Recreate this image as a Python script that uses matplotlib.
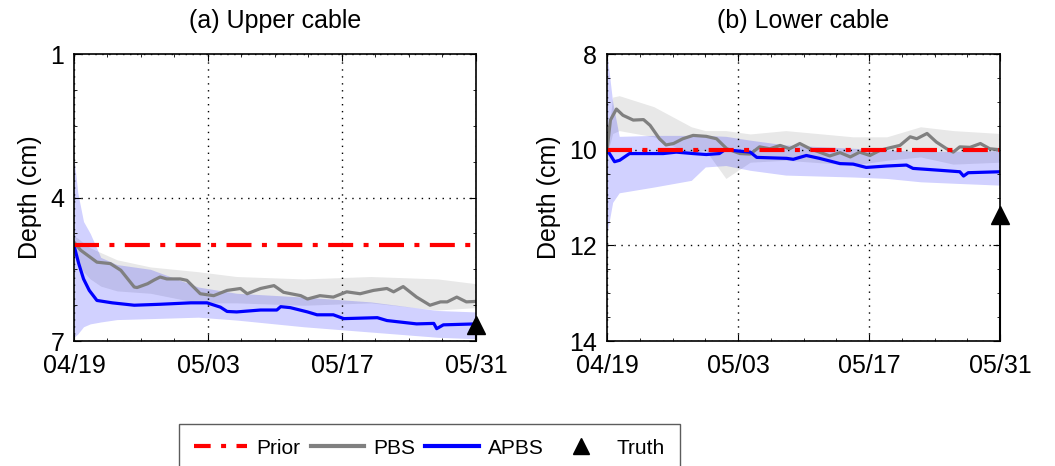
import numpy as np
import matplotlib
matplotlib.use("Agg")
import matplotlib.pyplot as plt
from matplotlib.lines import Line2D

plt.rcParams['font.family'] = ['Liberation Sans', 'DejaVu Sans']

# ---------------- data ----------------
tick_days = [0, 14, 28, 42]
tick_labels = ['04/19', '05/03', '05/17', '05/31']
day_end = 42

# (a) Upper cable
prior_a = 5.0
truth_a = 6.67
apbs_a_days = [0, 0.5, 1.0, 1.6, 2.4, 4, 6.3, 9, 12.2, 13.9, 15.3, 16, 17, 19.5, 21.2, 21.6,
               22.6, 24.4, 25.4, 27.1, 28.2, 31.7, 32.7, 35.8, 37.6, 37.9, 38.6, 42]
apbs_a = [5.0, 5.38, 5.7, 5.94, 6.15, 6.2, 6.25, 6.23, 6.2, 6.2, 6.29, 6.38, 6.39, 6.35, 6.35, 6.28,
          6.3, 6.39, 6.45, 6.45, 6.53, 6.51, 6.57, 6.64, 6.63, 6.74, 6.66, 6.64]
pbs_a_days = [0, 0.7, 2.4, 3.8, 4.9, 6.3, 6.6, 7.7, 8.4, 9, 9.7, 11.1, 11.8, 13.2, 14.6, 16, 17.4,
              18.1, 19.5, 20.9, 21.9, 23.7, 24.4, 25.7, 27.1, 28.5, 29.9, 31.3, 32.7, 33.4, 34.4,
              35.8, 37.2, 38.3, 39, 40, 41, 42]
pbs_a = [4.93, 5.1, 5.35, 5.38, 5.52, 5.87, 5.88, 5.8, 5.72, 5.66, 5.7, 5.7, 5.73, 6.01, 6.05, 5.94,
         5.9, 6.01, 5.9, 5.84, 5.98, 6.05, 6.12, 6.05, 6.08, 5.97, 6.01, 5.94, 5.9, 5.97, 5.86,
         6.08, 6.25, 6.18, 6.18, 6.08, 6.18, 6.17]
band_a_days = [0, 0.4, 1.0, 1.7, 2.8, 4.5, 8, 13, 17, 24, 31, 38, 42]
apbs_a_lo = [3.15, 3.9, 4.5, 4.75, 5.25, 5.4, 5.5, 5.87, 6.0, 6.08, 6.18, 6.36, 6.39]
apbs_a_hi = [6.92, 6.85, 6.7, 6.64, 6.6, 6.55, 6.53, 6.5, 6.56, 6.7, 6.81, 6.92, 6.95]
pbs_a_lo = [4.8, 4.85, 4.95, 5.05, 5.15, 5.3, 5.45, 5.55, 5.65, 5.7, 5.65, 5.7, 5.8]
pbs_a_hi = [5.1, 5.35, 5.55, 5.7, 5.85, 5.95, 6.0, 6.2, 6.2, 6.25, 6.2, 6.35, 6.3]

# (b) Lower cable
prior_b = 10.0
truth_b = 11.37
apbs_b_days = [0, 0.8, 1.35, 2.4, 6, 7.4, 9.2, 10.6, 12, 12.6, 15.3, 16, 19.2, 19.9, 21.3, 22.7,
               24.9, 26.3, 27.7, 29.9, 32, 32.7, 35.6, 37.7, 38.1, 38.6, 42]
apbs_b = [10.0, 10.25, 10.22, 10.08, 10.08, 10.05, 10.08, 10.1, 10.08, 10.0, 10.05, 10.16, 10.18,
          10.2, 10.12, 10.18, 10.29, 10.3, 10.37, 10.34, 10.32, 10.39, 10.43, 10.46, 10.55, 10.48, 10.46]
pbs_b_days = [0, 0.36, 1, 1.7, 2.8, 3.9, 4.6, 5.6, 6.3, 7.1, 8.1, 9.2, 10.6, 11.7, 12.8, 14.2, 15.3,
              16.3, 17.4, 18.5, 19.5, 20.6, 21.7, 22.7, 23.8, 24.9, 26, 27, 28.1, 29.2, 30.2, 31.3,
              32.4, 33.1, 34.2, 35.2, 36.3, 37, 37.7, 38.8, 39.9, 40.9, 42]
pbs_b = [10.0, 9.38, 9.15, 9.28, 9.38, 9.37, 9.49, 9.77, 9.9, 9.87, 9.77, 9.7, 9.72, 9.77, 9.98,
         10.08, 10.09, 9.94, 9.98, 9.91, 9.98, 9.87, 9.98, 10.05, 10.13, 10.06, 10.15, 10.05, 10.12,
         10.01, 9.96, 9.91, 9.73, 9.77, 9.66, 9.84, 9.98, 10.05, 9.94, 9.95, 9.87, 9.98, 10.0]
band_b_days = [0, 0.6, 1.3, 5, 9, 10.5, 12.7, 15.3, 19.1, 26.3, 29.9, 33.5, 37, 42]
apbs_b_lo = [8.0, 9.0, 9.72, 9.7, 9.7, 9.7, 9.72, 9.8, 9.9, 9.97, 10.0, 10.04, 10.03, 10.02]
apbs_b_hi = [11.75, 11.1, 10.9, 10.78, 10.64, 10.36, 10.33, 10.43, 10.53, 10.57, 10.6, 10.67, 10.7, 10.74]
pbs_b_lo = [9.9, 8.9, 8.87, 9.1, 9.52, 9.6, 9.6, 9.67, 9.6, 9.73, 9.73, 9.52, 9.6, 9.66]
pbs_b_hi = [10.1, 9.66, 9.6, 9.73, 10.1, 10.0, 10.6, 10.26, 10.22, 10.32, 10.22, 10.15, 10.3, 10.26]

legend_labels = ['Prior', 'PBS', 'APBS', 'Truth']

# ---------------- figure ----------------
fig = plt.figure(figsize=(10.55, 4.66), dpi=100)
axA = fig.add_axes([0.0701, 0.268, 0.381, 0.616])
axB = fig.add_axes([0.5754, 0.268, 0.3725, 0.616])

FS = 18
blue_band = (0.0, 0.0, 1.0, 0.18)
gray_band = (0.5, 0.5, 0.5, 0.18)
DASHDOT = (0, (6, 2.5, 1.2, 2.5))


def draw(ax, prior, truth, ad, a, pd, p, bd, alo, ahi, plo, phi, ylim, yticks, title):
    ax.fill_between(bd, plo, phi, color=gray_band, linewidth=0)
    ax.fill_between(bd, alo, ahi, color=blue_band, linewidth=0)
    ax.plot(pd, p, color='#808080', lw=2.3)
    ax.plot(ad, a, color='blue', lw=2.3)
    ax.axhline(prior, color='red', lw=3, linestyle=DASHDOT)
    ax.vlines(day_end, truth, ylim[0], color='black', lw=1.5, clip_on=False)
    ax.plot([day_end], [truth], marker='^', color='black', markersize=13, clip_on=False, zorder=5)
    ax.set_xlim(0, day_end)
    ax.set_ylim(ylim)
    ax.set_yticks(yticks)
    ax.set_xticks(tick_days)
    ax.set_xticklabels(tick_labels)
    ax.grid(True, color='black', linestyle=(0, (1, 4)), linewidth=1)
    ax.tick_params(direction='in', labelsize=FS, length=5, top=True, right=True)
    ax.tick_params(axis='y', pad=7)
    ax.tick_params(axis='x', pad=9)
    ax.minorticks_on()
    ax.tick_params(which='minor', direction='in', length=2.5, top=True, right=True)
    ax.set_ylabel('Depth (cm)', fontsize=FS, labelpad=6)
    ax.set_title(title, fontsize=FS, pad=19)
    for s in ax.spines.values():
        s.set_linewidth(1.2)


draw(axA, prior_a, truth_a, apbs_a_days, apbs_a, pbs_a_days, pbs_a, band_a_days,
     apbs_a_lo, apbs_a_hi, pbs_a_lo, pbs_a_hi, (7, 1), [1, 4, 7], '(a) Upper cable')
draw(axB, prior_b, truth_b, apbs_b_days, apbs_b, pbs_b_days, pbs_b, band_b_days,
     apbs_b_lo, apbs_b_hi, pbs_b_lo, pbs_b_hi, (14, 8), [8, 10, 12, 14], '(b) Lower cable')

handles = [
    Line2D([], [], color='red', lw=3, linestyle=(0, (4, 2.5, 1.2, 2.5))),
    Line2D([], [], color='#808080', lw=3),
    Line2D([], [], color='blue', lw=3),
    Line2D([], [], color='black', marker='^', linestyle='none', markersize=12),
]
leg = fig.legend(handles, legend_labels, loc='upper left',
                 bbox_to_anchor=(0.1697, 0.0901), ncol=4, frameon=True,
                 prop={'size': 15},
                 fancybox=False, edgecolor='#333333', handlelength=2.55, handletextpad=0.45,
                 columnspacing=0.5, borderpad=0.7, borderaxespad=0)
leg.get_frame().set_linewidth(1.0)

fig.savefig('out.png', dpi=100)
